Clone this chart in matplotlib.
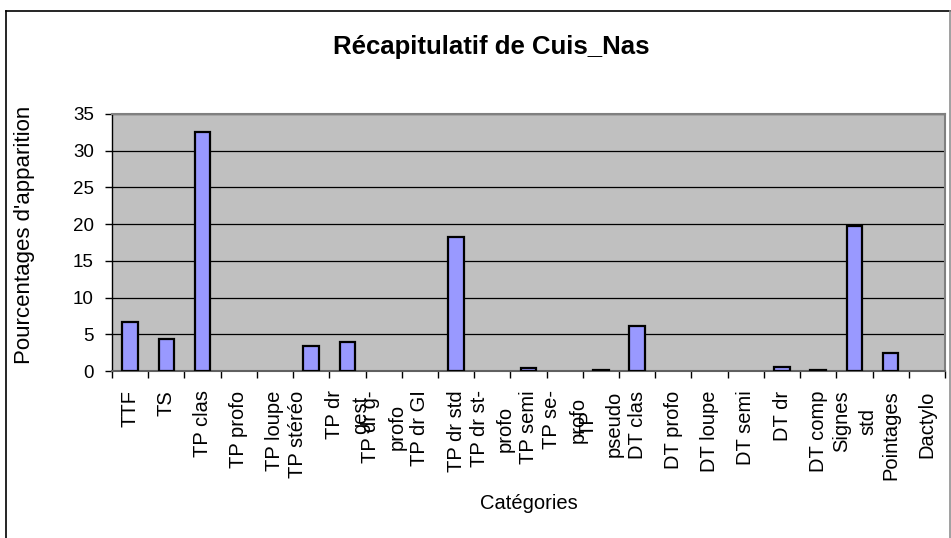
import matplotlib
matplotlib.use("Agg")
import matplotlib.pyplot as plt
import numpy as np
from matplotlib.lines import Line2D

plt.rcParams['font.family'] = ['Liberation Sans', 'DejaVu Sans']

title = "Récapitulatif de Cuis_Nas"
x_title = "Catégories"
y_title = "Pourcentages d'apparition"

categories = [
    "TTF", "TS", "TP clas", "TP profo", "TP loupe", "TP stéréo\n",
    "TP dr\ngest", "TP dr g-\nprofo", "TP dr GI", "TP dr std",
    "TP dr st-\nprofo", "TP semi", "TP se-\nprofo", "TP\npseudo",
    "DT clas", "DT profo", "DT loupe", "DT semi", "DT dr", "DT comp",
    "Signes\nstd", "Pointages", "Dactylo",
]
values = [
    6.7, 4.4, 32.6, 0, 0, 3.4,
    3.9, 0, 0, 18.3,
    0, 0.4, 0, 0.15,
    6.1, 0, 0, 0, 0.6, 0.2,
    19.8, 2.4, 0,
]
y_ticks = [0, 5, 10, 15, 20, 25, 30, 35]

W, H = 951, 538
fig = plt.figure(figsize=(W / 100, H / 100), dpi=100)
fig.patch.set_facecolor("white")

left, right, top, bottom = 112, 945, 114, 371
ax = fig.add_axes([left / W, 1 - bottom / H, (right - left) / W, (bottom - top) / H])
ax.set_facecolor("#C0C0C0")

x = np.arange(len(categories))
# empty categories get no outline, so nothing shows for them
edge_widths = [1.6 if v > 0 else 0 for v in values]
ax.bar(x, values, width=0.43, color="#9999FF", edgecolor="black",
       linewidth=edge_widths, zorder=3)

ax.set_xlim(-0.5, len(categories) - 0.5)
ax.set_ylim(0, 35)
ax.set_yticks(y_ticks)
ax.set_yticklabels([str(v) for v in y_ticks], fontsize=13.5)
ax.yaxis.grid(True, color="black", linewidth=0.9, zorder=0)
ax.set_axisbelow(True)

ax.set_xticks(x)
ax.set_xticklabels(categories, rotation=90, fontsize=14.5, va="top",
                   ha="center", multialignment="center", linespacing=1.5)
ax.set_xticks(np.arange(-0.5, len(categories)), minor=True)
ax.tick_params(axis="x", which="major", length=0, pad=14)
ax.tick_params(axis="x", which="minor", length=5, width=1, color="black")
ax.tick_params(axis="y", which="major", length=5, width=1, pad=8,
               color="black", direction="out")

for side in ("top", "right"):
    ax.spines[side].set_color("#808080")
    ax.spines[side].set_linewidth(1.5)
ax.spines["left"].set_color("black")
ax.spines["bottom"].set_color("#606060")
ax.spines["left"].set_linewidth(1)
ax.spines["bottom"].set_linewidth(1.5)

ax.set_xlabel(x_title, fontsize=14.5)
ax.xaxis.set_label_coords(0.5, -0.48)
ax.set_ylabel(y_title, fontsize=16)
ax.yaxis.set_label_coords(-0.093, 0.53)

fig.text(491 / W, 1 - 47 / H, title, ha="center", va="center",
         fontsize=18.5, fontweight="bold")

# chart area frame
fig.add_artist(Line2D([5.5 / W, 5.5 / W], [0, 1 - 10.5 / H], color="black", lw=1.2))
fig.add_artist(Line2D([5.5 / W, 1], [1 - 10.5 / H, 1 - 10.5 / H], color="black", lw=1.2))
fig.add_artist(Line2D([949.5 / W, 949.5 / W], [0, 1 - 10.5 / H], color="#909090", lw=1.2))

fig.savefig("out.png", dpi=100)
